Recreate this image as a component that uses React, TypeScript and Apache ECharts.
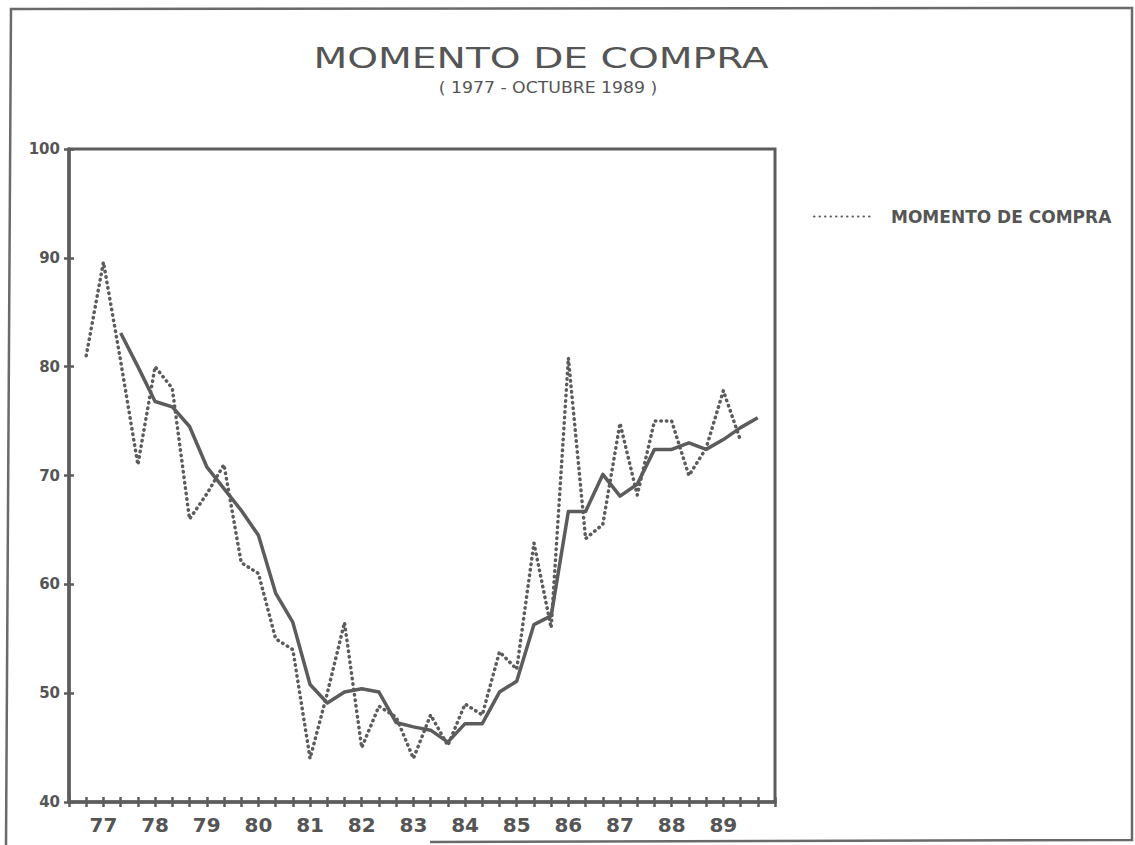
import React, { useEffect, useRef } from "react";
import * as echarts from "echarts";

// Year labels (one label per group of three observations)
const years = ["77", "78", "79", "80", "81", "82", "83", "84", "85", "86", "87", "88", "89"];

// Observed index, 3 readings per year, 1977 - Oct 1989
const momentoCompra = [
  81, 89.6, 80.5, 71, 80, 78, 66, 68.3, 71, 62, 61, 55, 54, 44, 50, 56.5, 45, 48.8, 47.8,
  44, 48, 45.2, 49, 48, 53.8, 52.2, 63.8, 56, 80.8, 64.2, 65.5, 74.8, 68.2, 75, 75, 70,
  72.5, 77.8, 73.2,
];

// Smoothed trend line (starts at the third reading, runs one step past the last)
const tendencia = [
  83.1, 80, 76.8, 76.3, 74.5, 70.8, 68.8, 66.8, 64.5, 59.2, 56.5, 50.8, 49.1, 50.1, 50.4,
  50.1, 47.3, 46.9, 46.6, 45.5, 47.2, 47.2, 50.1, 51.1, 56.3, 57.1, 66.7, 66.7, 70.1, 68.1,
  69.2, 72.4, 72.4, 73.0, 72.4, 73.3, 74.4, 75.3,
];

const yTicks = [40, 50, 60, 70, 80, 90, 100];

const TITLE = "MOMENTO DE COMPRA";
const SUBTITLE = "( 1977 - OCTUBRE 1989 )";
const SERIES_NAME = "MOMENTO DE COMPRA";
const TREND_NAME = "Tendencia";

const GRAY = "#5c5c5c";
const TEXT = "#555555";

export default function App() {
  const ref = useRef<HTMLDivElement>(null);

  useEffect(() => {
    if (!ref.current) return;
    const chart = echarts.init(ref.current, null, { renderer: "svg" });

    // 42 slots: slot 0 and 41 are the axis ends, slots 1..40 are ticks
    const nSlots = 42;
    const xCategories: string[] = [];
    for (let i = 0; i < nSlots; i++) {
      const k = i - 2;
      xCategories.push(k >= 0 && k % 3 === 0 && k / 3 < years.length ? years[k / 3] : "");
    }
    const dottedData: (number | null)[] = [null, ...momentoCompra];
    const solidData: (number | null)[] = [null, null, null, ...tendencia];

    const xCommon = {
      type: "category" as const,
      data: xCategories,
      boundaryGap: false,
      gridIndex: 0,
      position: "bottom" as const,
      splitLine: { show: false },
    };
    const yCommon = {
      type: "value" as const,
      min: yTicks[0],
      max: yTicks[yTicks.length - 1],
      interval: 10,
      position: "left" as const,
      splitLine: { show: false },
    };

    chart.setOption({
      animation: false,
      backgroundColor: "#ffffff",
      grid: {
        left: 69,
        right: 360,
        top: 149,
        bottom: 43,
        show: true,
        borderColor: GRAY,
        borderWidth: 3,
        backgroundColor: "transparent",
      },
      legend: {
        data: [SERIES_NAME],
        left: 808,
        top: 203,
        itemWidth: 56,
        itemHeight: 10,
        itemStyle: { opacity: 0 },
        textStyle: {
          fontFamily: "DejaVu Sans",
          fontWeight: "bold",
          fontSize: 17,
          color: TEXT,
          padding: [0, 0, 0, 16],
        },
      },
      xAxis: [
        {
          ...xCommon,
          axisLine: { show: true, lineStyle: { color: GRAY, width: 3.5 } },
          axisTick: { show: true, interval: 0, length: 5, lineStyle: { color: GRAY, width: 2.5 } },
          axisLabel: {
            interval: 0,
            margin: 13,
            color: TEXT,
            fontFamily: "DejaVu Sans",
            fontWeight: "bold",
            fontSize: 20,
          },
        },
        {
          ...xCommon,
          axisLine: { show: false },
          axisTick: { show: true, inside: true, interval: 0, length: 5, lineStyle: { color: GRAY, width: 2.5 } },
          axisLabel: { show: false },
        },
      ],
      yAxis: [
        {
          ...yCommon,
          axisLine: { show: true, lineStyle: { color: GRAY, width: 3.5 } },
          axisTick: { show: true, length: 5, lineStyle: { color: GRAY, width: 2.5 } },
          axisLabel: {
            margin: 9,
            color: TEXT,
            fontFamily: "DejaVu Sans",
            fontWeight: "bold",
            fontSize: 15,
          },
        },
        {
          ...yCommon,
          axisLine: { show: false },
          axisTick: { show: true, inside: true, length: 5, lineStyle: { color: GRAY, width: 2.5 } },
          axisLabel: { show: false },
        },
      ],
      series: [
        {
          name: SERIES_NAME,
          type: "line",
          data: dottedData,
          symbol: "none",
          showSymbol: false,
          connectNulls: false,
          lineStyle: { color: GRAY, width: 3.5, type: [0.5, 5], cap: "round", join: "round" },
          itemStyle: { color: GRAY },
          z: 3,
        },
        {
          name: TREND_NAME,
          type: "line",
          data: solidData,
          symbol: "none",
          showSymbol: false,
          lineStyle: { color: GRAY, width: 3.5, join: "round" },
          itemStyle: { color: GRAY },
          z: 2,
        },
      ],
      graphic: [
        {
          type: "polyline",
          shape: {
            points: [
              [6, 845],
              [11, 9],
              [1132, 8],
              [1132, 840],
              [430, 842],
            ],
          },
          style: { stroke: "#6a6a6a", lineWidth: 2.5, fill: "none" },
          silent: true,
        },
        {
          type: "text",
          x: 541,
          y: 58,
          scaleX: 1.4,
          style: {
            text: TITLE,
            font: 'normal 28px "DejaVu Sans"',
            fill: TEXT,
            textAlign: "center",
            textVerticalAlign: "middle",
          },
        },
        {
          type: "text",
          x: 548,
          y: 88,
          scaleX: 1.2,
          style: {
            text: SUBTITLE,
            font: 'normal 16px "DejaVu Sans Condensed"',
            fill: TEXT,
            textAlign: "center",
            textVerticalAlign: "middle",
          },
        },
      ],
    });

    return () => chart.dispose();
  }, []);

  return (
    <div
      ref={ref}
      style={{ position: "fixed", left: 0, top: 0, width: 1135, height: 845, background: "#fff" }}
    />
  );
}
